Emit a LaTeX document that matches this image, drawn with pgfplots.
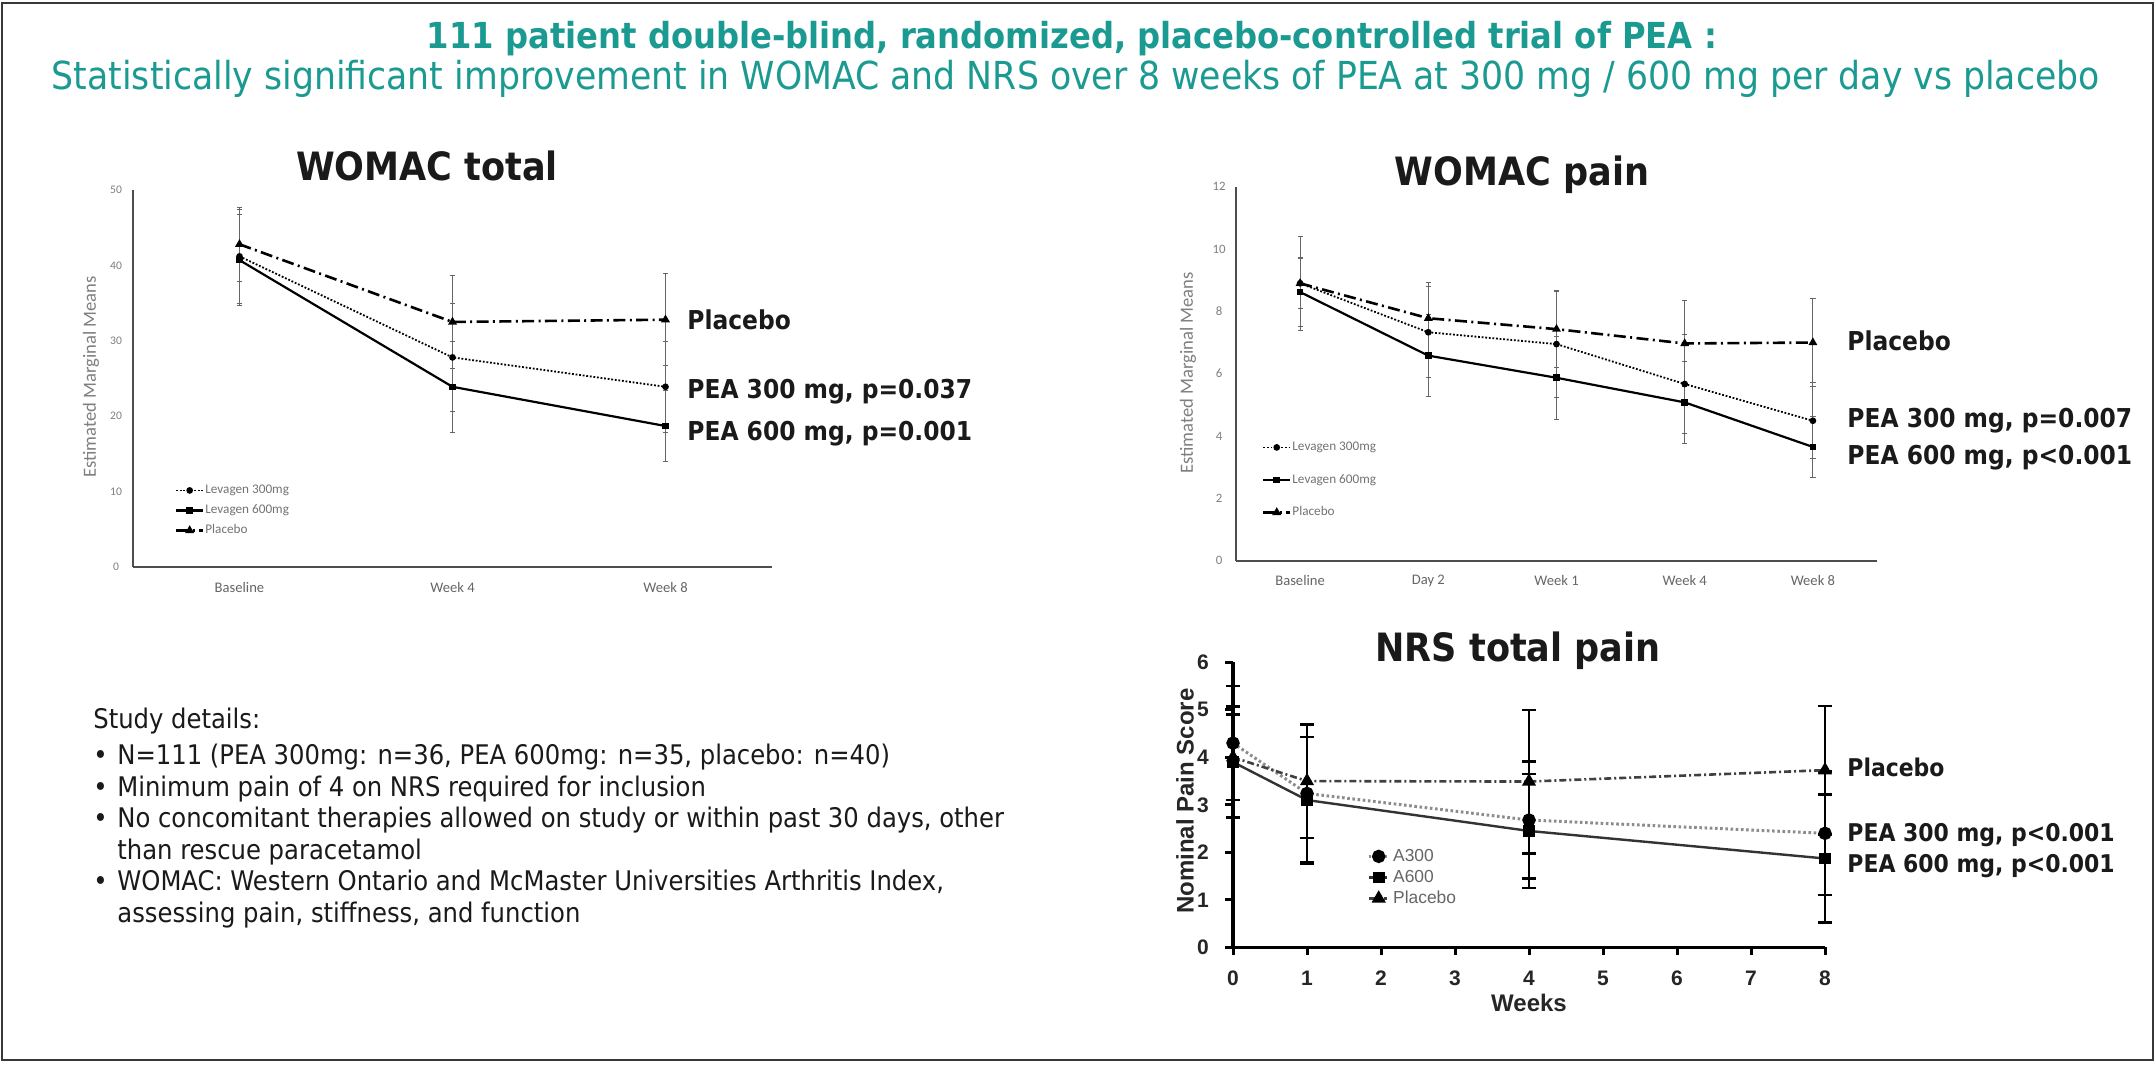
\documentclass[border=0pt]{standalone}
\usepackage{fontspec}
\usepackage{graphicx}
\usepackage{pgfplots}
\pgfplotsset{compat=1.18}
\usepackage{pgfplotstable}
\setmainfont{DejaVu Sans Condensed}[BoldFont={DejaVu Sans Condensed Bold}]
\newfontfamily\carlito{Carlito}
\newfontfamily\arial{Liberation Sans}
\definecolor{teal1}{HTML}{1B9A91}
\definecolor{txt}{HTML}{1A1A1A}
\definecolor{axg}{HTML}{4D4D4D}
\definecolor{lblg}{HTML}{7F7F7F}

% WOMAC total: x = category centre, y = mean, e = error
\pgfplotstableread{
x y e
0.5 41.2 6.2
1.5 27.8 7.2
2.5 23.9 6.0
}\WTa
\pgfplotstableread{
x y e
0.5 40.7 6.0
1.5 23.9 6.0
2.5 18.7 4.7
}\WTb
\pgfplotstableread{
x y e
0.5 42.8 4.9
1.5 32.5 6.2
2.5 32.8 6.1
}\WTc
% WOMAC pain
\pgfplotstableread{
x y e
0.5 8.90 0.80
1.5 7.33 1.46
2.5 6.95 1.70
3.5 5.67 1.60
4.5 4.49 1.22
}\WPa
\pgfplotstableread{
x y e
0.5 8.62 1.11
1.5 6.58 1.32
2.5 5.87 1.33
3.5 5.08 1.31
4.5 3.65 0.99
}\WPb
\pgfplotstableread{
x y e
0.5 8.90 1.50
1.5 7.78 1.16
2.5 7.43 1.24
3.5 6.97 1.39
4.5 7.00 1.40
}\WPc
% NRS total pain
\pgfplotstableread{
x y e
0 4.30 1.20
1 3.24 1.45
4 2.68 1.23
8 2.40 1.30
}\NRa
\pgfplotstableread{
x y e
0 3.90 1.17
1 3.10 1.33
4 2.45 1.20
8 1.87 1.35
}\NRb
\pgfplotstableread{
x y e
0 4.00 0.90
1 3.50 1.20
4 3.49 1.51
8 3.73 1.35
}\NRc

\pgfplotsset{
  womac/.style={
    scale only axis, anchor=south west, clip=false,
    /pgf/number format/assume math mode=true,
    axis x line*=bottom, axis y line*=left,
    axis line style={-, line width=0.9pt, axg},
    ymin=0, xmin=0,
    major tick length=0pt,
    yticklabel style={font=\carlito\fontsize{5.8}{7}\selectfont, text=lblg, anchor=center, xshift=-8.5pt},
    xticklabel style={font=\carlito\fontsize{7.3}{9}\selectfont, text=black!60, anchor=center, yshift=-10pt},
    ylabel style={font=\carlito\fontsize{9.3}{11}\selectfont, text=lblg, anchor=center},
    legend cell align=left,
    legend style={draw=none, fill=none, inner sep=0pt, outer sep=0pt, column sep=0pt,
      anchor=north west, font=\carlito\fontsize{6.6}{7.5}\selectfont, text=black!55,
      nodes={inner sep=0.5pt, text height=5pt, text depth=1.5pt}},
    legend image code/.code={\draw[mark repeat=2,mark phase=2,##1] plot coordinates {(0pt,0pt) (6.7pt,0pt) (13.4pt,0pt)};},
    error bars/y dir=both, error bars/y explicit,
    error bars/error bar style={line width=0.5pt, black!60, solid},
    error bars/error mark options={rotate=90, mark size=1.3pt, line width=0.5pt, black!60, solid},
  },
  wa/.style={black, line width=0.9pt, dash pattern=on 0.9pt off 0.9pt, mark=*, mark size=1.2pt, mark options={solid}},
  wb/.style={black, line width=1.1pt, solid, mark=square*, mark size=1.1pt, mark options={solid}},
  wc/.style={black, line width=1.3pt, dash pattern=on 6pt off 2.2pt on 1pt off 2.2pt, mark=triangle*, mark size=1.3pt, mark options={solid}},
}

\begin{document}
\begin{tikzpicture}
\path[use as bounding box] (0pt,0pt) rectangle (1078pt,-533.5pt);
\fill[white] (0pt,0pt) rectangle (1078pt,-533.5pt);
\draw[line width=1.2pt, black!78] (1pt,-1.6pt) rectangle (1076.4pt,-530pt);

% Headline
\node[anchor=base, text=teal1, inner sep=0pt] at (536pt,-24pt)
  {\resizebox{645pt}{!}{\bfseries 111 patient double-blind, randomized, placebo-controlled trial of PEA :}};
\node[anchor=base, text=teal1, inner sep=0pt] at (538pt,-44.5pt)
  {\resizebox{1024pt}{!}{Statistically significant improvement in WOMAC and NRS over 8 weeks of PEA at 300 mg / 600 mg per day vs placebo}};

% Study details
\begin{scope}[every node/.style={anchor=base west, inner sep=0pt, text=txt, font=\fontsize{13.5}{16}\selectfont}]
\node at (46.5pt,-364pt) {Study details:};
\node at (46.5pt,-382pt) {\textbullet}; \node at (58.5pt,-382pt) {N=111 (PEA 300mg: n=36, PEA 600mg: n=35, placebo: n=40)};
\node at (46.5pt,-398pt) {\textbullet}; \node at (58.5pt,-398pt) {Minimum pain of 4 on NRS required for inclusion};
\node at (46.5pt,-413.5pt) {\textbullet}; \node at (58.5pt,-413.5pt) {No concomitant therapies allowed on study or within past 30 days, other};
\node at (58.5pt,-429.5pt) {than rescue paracetamol};
\node at (46.5pt,-445pt) {\textbullet}; \node at (58.5pt,-445pt) {WOMAC: Western Ontario and McMaster Universities Arthritis Index,};
\node at (58.5pt,-461pt) {assessing pain, stiffness, and function};
\end{scope}

% Chart titles
\begin{scope}[every node/.style={anchor=base, inner sep=0pt, text=txt, font=\bfseries\fontsize{19.5}{22}\selectfont}]
\node at (213.5pt,-90pt) {WOMAC total};
\node at (761pt,-92.5pt) {WOMAC pain};
\node at (759pt,-330.8pt) {NRS total pain};
\end{scope}

% Right-hand labels
\begin{scope}[every node/.style={anchor=base west, inner sep=0pt, text=txt, font=\bfseries\fontsize{13}{15}\selectfont}]
\node at (343.5pt,-164.5pt) {Placebo};
\node at (343.5pt,-199pt) {PEA 300 mg, p=0.037};
\node at (343.5pt,-220pt) {PEA 600 mg, p=0.001};
\node at (923.5pt,-175pt) {Placebo};
\node at (923.5pt,-213.8pt) {PEA 300 mg, p=0.007};
\node at (923.5pt,-232.2pt) {PEA 600 mg, p<0.001};
\end{scope}
\begin{scope}[every node/.style={anchor=base west, inner sep=0pt, text=txt, font=\bfseries\fontsize{12.2}{14}\selectfont}]
\node at (923.5pt,-388pt) {Placebo};
\node at (923.5pt,-420.5pt) {PEA 300 mg, p<0.001};
\node at (923.5pt,-436.3pt) {PEA 600 mg, p<0.001};
\end{scope}

% ---- WOMAC total ----
\begin{axis}[womac, at={(66.5pt,-283.5pt)}, width=319.5pt, height=188.5pt,
  xmax=3, ymax=50, ytick={0,10,...,50},
  xtick={0.5,1.5,2.5}, xticklabels={Baseline,Week 4,Week 8},
  ylabel={Estimated Marginal Means},
  ylabel style={at={(axis description cs:-0.0657,0.504)}},
  legend style={at={(axis description cs:0.0657,0.223)}, row sep=2.5pt}]
\addplot[wa] table[x=x,y=y,y error=e] {\WTa};
\addlegendentry{Levagen 300mg}
\addplot[wb] table[x=x,y=y,y error=e] {\WTb};
\addlegendentry{Levagen 600mg}
\addplot[wc] table[x=x,y=y,y error=e] {\WTc};
\addlegendentry{Placebo}
\end{axis}

% ---- WOMAC pain ----
\begin{axis}[womac, at={(618pt,-280.35pt)}, width=320.5pt, height=187pt,
  xmax=5, ymax=12, ytick={0,2,...,12},
  xtick={0.5,1.5,2.5,3.5,4.5}, xticklabels={Baseline,Day 2,Week 1,Week 4,Week 8},
  yticklabel style={font=\carlito\fontsize{6.4}{7.5}\selectfont},
  ylabel={Estimated Marginal Means},
  ylabel style={at={(axis description cs:-0.0749,0.502)}},
  legend style={at={(axis description cs:0.0406,0.323)}, row sep=8.75pt}]
\addplot[wa] table[x=x,y=y,y error=e] {\WPa};
\addlegendentry{Levagen 300mg}
\addplot[wb] table[x=x,y=y,y error=e] {\WPb};
\addlegendentry{Levagen 600mg}
\addplot[wc] table[x=x,y=y,y error=e] {\WPc};
\addlegendentry{Placebo}
\end{axis}

% ---- NRS total pain ----
\begin{axis}[at={(616.5pt,-473.65pt)}, anchor=south west, scale only axis,
  width=296pt, height=142.5pt, clip=false,
  /pgf/number format/assume math mode=true,
  xmin=0, xmax=8, ymin=0, ymax=6, xtick={0,...,8}, ytick={0,...,6},
  axis x line*=bottom, axis y line*=left,
  axis line style={-, line width=1.6pt, black},
  tick align=outside, major tick length=4pt, tick style={line width=1.5pt, black},
  tick label style={font=\arial\bfseries\fontsize{10.5}{12}\selectfont, text=black!85},
  xticklabel style={anchor=center, yshift=-11.5pt},
  yticklabel style={anchor=center, xshift=-11pt},
  xlabel={Weeks}, ylabel={Nominal Pain Score},
  label style={font=\arial\bfseries\fontsize{12}{14}\selectfont, text=black!85},
  xlabel style={at={(axis description cs:0.5,-0.196)}, anchor=center},
  ylabel style={at={(axis description cs:-0.081,0.513)}, anchor=center},
  legend cell align=left,
  legend style={draw=none, fill=none, inner sep=0pt, column sep=2pt,
    at={(axis description cs:0.226,0.352)}, anchor=north west,
    font=\arial\fontsize{8.7}{10}\selectfont, text=black!60, row sep=1.5pt,
    nodes={inner sep=0.5pt, text height=6.5pt, text depth=1.5pt}},
  legend image code/.code={\draw[mark repeat=2,mark phase=2,#1] plot coordinates {(0pt,0pt) (5pt,0pt) (9pt,0pt)};},
  error bars/y dir=both, error bars/y explicit,
  error bars/error bar style={line width=1.3pt, black, solid},
  error bars/error mark options={rotate=90, mark size=3.6pt, line width=1.3pt, black, solid},
]
\addplot[black!45, line width=1.5pt, dash pattern=on 1.3pt off 1.3pt, mark=*, mark size=2.6pt, mark options={solid, black}]
  table[x=x,y=y,y error=e] {\NRa};
\addlegendentry{A300}
\addplot[black!80, line width=1.2pt, solid, mark=square*, mark size=2.3pt, mark options={solid, black}]
  table[x=x,y=y,y error=e] {\NRb};
\addlegendentry{A600}
\addplot[black!75, line width=1.3pt, dash pattern=on 3.5pt off 1.5pt on 1pt off 1.5pt, mark=triangle*, mark size=2.8pt, mark options={solid, black}]
  table[x=x,y=y,y error=e] {\NRc};
\addlegendentry{Placebo}
\end{axis}
\end{tikzpicture}
\end{document}
